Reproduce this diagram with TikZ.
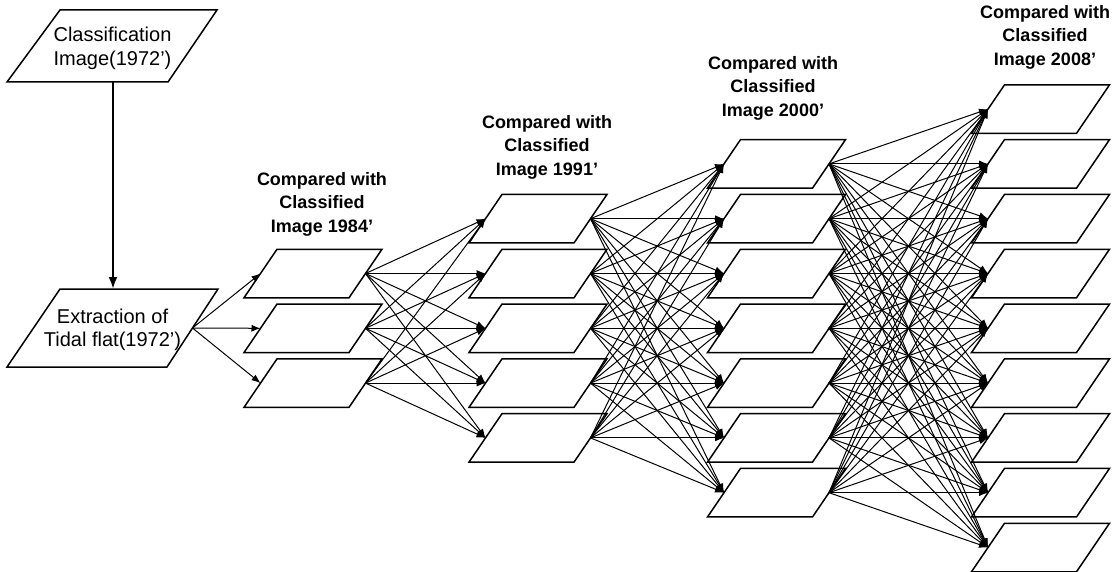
\documentclass[tikz,border=0pt]{standalone}
\usepackage{fontspec}
\setmainfont{Liberation Sans}
\usetikzlibrary{arrows.meta}
\begin{document}
\begin{tikzpicture}[x=1pt,y=-1pt,
  box/.style={draw=black,line width=1.5pt,fill=white,line join=miter},
  link/.style={line width=1pt,-{Latex[length=9pt,width=7pt]}},
  thick link/.style={line width=2.6pt,-{Latex[length=12pt,width=9pt]}},
  hdr/.style={font=\bfseries\fontsize{18}{23.5}\selectfont,align=center,inner sep=0pt},
  lbl/.style={font=\fontsize{20}{23.5}\selectfont,align=center,inner sep=0pt},
  ]
\useasboundingbox (0,0) rectangle (1115,572);

% first column: two large parallelograms
\draw[box] (60,10) -- (217,10) -- (168,82) -- (7,82) -- cycle;
\draw[box] (60,289) -- (218,289) -- (167,367) -- (7,367) -- cycle;
\node[lbl] (t0a) at (112.5,48.5) {Classification\\Image(1972')};
\node[lbl] (t0b) at (112.5,330) {Extraction of\\Tidal flat(1972')};
\coordinate (a0bot) at (113,82);
\coordinate (b0top) at (113,289);
\coordinate (r0-1) at (192.5,328);
\draw[thick link] (a0bot) -- (b0top);

% comparison columns
\foreach \c/\cx/\n in {1/313/3,2/538/5,3/776.5/7,4/1040.5/9} {
  \foreach \k in {1,...,\n} {
    \pgfmathsetmacro\cy{328.3+54.8*(\k-(\n+1)/2)}
    \draw[box] (\cx-36,\cy-24.25) -- (\cx+69,\cy-24.25) -- (\cx+36,\cy+24.25) -- (\cx-69,\cy+24.25) -- cycle;
    \coordinate (l\c-\k) at (\cx-52.5,\cy);
    \coordinate (r\c-\k) at (\cx+52.5,\cy);
  }
}

% headers
\node[hdr] (h1) at (322,204) {Compared with\\Classified\\Image 1984'};
\node[hdr] (h2) at (547,147) {Compared with\\Classified\\Image 1991'};
\node[hdr] (h3) at (773,88) {Compared with\\Classified\\Image 2000'};
\node[hdr] (h4) at (1045,37) {Compared with\\Classified\\Image 2008'};

% connectors
\foreach \j in {1,2,3} \draw[link] (r0-1) -- (l1-\j);
\foreach \a/\na/\b/\nb in {1/3/2/5, 2/5/3/7, 3/7/4/9} {
  \foreach \i in {1,...,\na} {
    \foreach \j in {1,...,\nb} {
      \draw[link] (r\a-\i) -- (l\b-\j);
    }
  }
}
\end{tikzpicture}
\end{document}
